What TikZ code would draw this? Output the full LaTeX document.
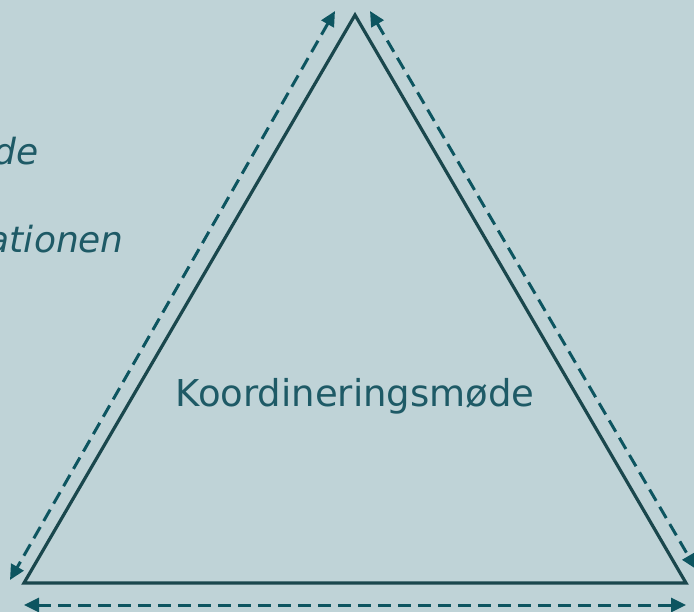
\documentclass[tikz,border=0pt]{standalone}
\usepackage{fontspec}
\setmainfont{DejaVu Sans}
\usetikzlibrary{arrows.meta}
\definecolor{bg}{HTML}{BFD3D7}
\definecolor{edge}{HTML}{1A474D}
\definecolor{arr}{HTML}{0D5560}
\definecolor{txt}{HTML}{1E5A66}
\tikzset{
  tri/.style={draw=edge,line width=3.2pt,line join=miter},
  dasharrow/.style={draw=arr,line width=3pt,dash pattern=on 13pt off 7pt,{Triangle[length=15pt,width=14pt]}-{Triangle[length=15pt,width=14pt]}},
  lbl/.style={text=txt,font=\fontsize{37}{44}\selectfont,inner sep=0pt},
  side/.style={text=txt,font=\fontsize{36}{42}\selectfont\itshape,inner sep=0pt,anchor=base east}
}
\begin{document}
\begin{tikzpicture}[x=1pt,y=-1pt]
\fill[bg] (0,0) rectangle (694,612);
\useasboundingbox (0,0) rectangle (694,612);
\coordinate (A) at (355,15);
\coordinate (B) at (24,583);
\coordinate (C) at (686,583);
\draw[tri] (A) -- (B) -- (C) -- cycle;
\coordinate (l1) at (335,11);
\coordinate (l2) at (10,580);
\coordinate (r1) at (370,11);
\coordinate (r2) at (696,569);
\coordinate (b1) at (24,605);
\coordinate (b2) at (686,605);
\draw[dasharrow] (l1) -- (l2);
\draw[dasharrow] (r1) -- (r2);
\draw[dasharrow] (b1) -- (b2);
\node[lbl] (k) at (355,396) {Koordineringsmøde};
\node[side] (s1) at (39,165) {de};
\node[side] (s2) at (124,253) {ationen};
\end{tikzpicture}
\end{document}
